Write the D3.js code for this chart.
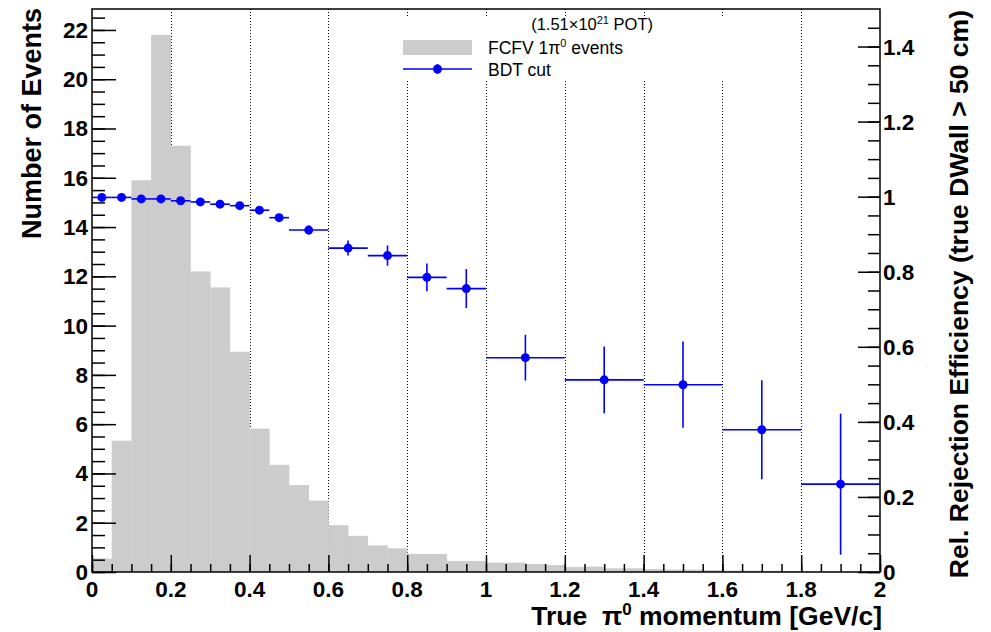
<!DOCTYPE html>
<html>
<head>
<meta charset="utf-8">
<script src="https://cdn.jsdelivr.net/npm/d3@7"></script>
<style>
  body { margin: 0; background: #fff; }
  svg { display: block; font-family: "Liberation Sans", Arial, Helvetica, sans-serif; }
</style>
</head>
<body>
<div id="chart"></div>
<script>
// grey histogram: FCFV 1pi0 events, 0.05 GeV/c bins
const histLo = [0, 0.05, 0.1, 0.15, 0.2, 0.25, 0.3, 0.35, 0.4, 0.45,
                0.5, 0.55, 0.6, 0.65, 0.7, 0.75, 0.8, 0.85, 0.9, 0.95,
                1.0, 1.05, 1.1, 1.15, 1.2, 1.25, 1.3, 1.35, 1.4, 1.45,
                1.5, 1.55, 1.6, 1.65, 1.7, 1.75, 1.8, 1.85, 1.9, 1.95];
const histHi = [0.05, 0.1, 0.15, 0.2, 0.25, 0.3, 0.35, 0.4, 0.45, 0.5,
                0.55, 0.6, 0.65, 0.7, 0.75, 0.8, 0.85, 0.9, 0.95, 1.0,
                1.05, 1.1, 1.15, 1.2, 1.25, 1.3, 1.35, 1.4, 1.45, 1.5,
                1.55, 1.6, 1.65, 1.7, 1.75, 1.8, 1.85, 1.9, 1.95, 2.0];
const histCounts = [0.55, 5.33, 15.9, 21.8, 17.3, 12.2, 11.55, 8.94, 5.82, 4.35,
                    3.53, 2.9, 1.9, 1.47, 1.08, 0.96, 0.73, 0.73, 0.45, 0.45,
                    0.38, 0.38, 0.33, 0.28, 0.2, 0.22, 0.15, 0.15, 0.12, 0.1,
                    0.1, 0.08, 0.06, 0.06, 0.05, 0.04, 0.03, 0.03, 0.02, 0.02];

// blue points: BDT cut relative rejection efficiency
const effLo = [0, 0.05, 0.1, 0.15, 0.2, 0.25, 0.3, 0.35, 0.4, 0.45,
               0.5, 0.6, 0.7, 0.8, 0.9, 1.0, 1.2, 1.4, 1.6, 1.8];
const effHi = [0.05, 0.1, 0.15, 0.2, 0.25, 0.3, 0.35, 0.4, 0.45, 0.5,
               0.6, 0.7, 0.8, 0.9, 1.0, 1.2, 1.4, 1.6, 1.8, 2.0];
const effVal = [0.998, 0.998, 0.994, 0.994, 0.989, 0.986, 0.980, 0.976, 0.964, 0.944,
                0.911, 0.863, 0.843, 0.785, 0.755, 0.571, 0.512, 0.499, 0.379, 0.234];
const effErr = [0.002, 0.002, 0.003, 0.003, 0.003, 0.004, 0.004, 0.005, 0.006, 0.008,
                0.012, 0.02, 0.027, 0.037, 0.052, 0.061, 0.089, 0.115, 0.132, 0.188];

const xTicks = [0, 0.2, 0.4, 0.6, 0.8, 1, 1.2, 1.4, 1.6, 1.8, 2];
const xGrid = [0.2, 0.4, 0.6, 0.8, 1, 1.2, 1.4, 1.6, 1.8];
const yLeftTicks = [0, 2, 4, 6, 8, 10, 12, 14, 16, 18, 20, 22];
const yRightTicks = [0, 0.2, 0.4, 0.6, 0.8, 1, 1.2, 1.4];

const width = 991, height = 632;
const margin = { top: 9, right: 111, bottom: 60, left: 92 };
const innerW = width - margin.left - margin.right;
const innerH = height - margin.top - margin.bottom;

const svg = d3.select('#chart').append('svg')
    .attr('width', width)
    .attr('height', height);

const x = d3.scaleLinear().domain([0, 2]).range([0, innerW]);
const yL = d3.scaleLinear().domain([0, 22.85]).range([innerH, 0]);
const yR = d3.scaleLinear().domain([0, 1.5]).range([innerH, 0]);

const chart = svg.append('g')
    .attr('transform', `translate(${margin.left}, ${margin.top})`);

// dotted vertical grid
chart.append('g')
    .selectAll('line')
    .data(xGrid)
    .enter()
    .append('line')
    .attr('x1', d => Math.round(x(d)) + 0.5)
    .attr('x2', d => Math.round(x(d)) + 0.5)
    .attr('y1', 0)
    .attr('y2', innerH)
    .attr('stroke', '#000')
    .attr('stroke-width', 1)
    .attr('stroke-dasharray', '1,2');

// histogram
chart.append('g')
    .selectAll('rect')
    .data(histCounts)
    .enter()
    .append('rect')
    .attr('x', (d, i) => x(histLo[i]))
    .attr('width', (d, i) => x(histHi[i]) - x(histLo[i]) + 0.3)
    .attr('y', d => yL(d))
    .attr('height', d => innerH - yL(d))
    .attr('fill', '#cccccc');

// legend box (white, hides grid)
const leg = svg.append('g');
leg.append('rect')
    .attr('x', 398).attr('y', 16)
    .attr('width', 360).attr('height', 65)
    .attr('fill', '#fff');
leg.append('text')
    .attr('x', 653).attr('y', 30)
    .attr('text-anchor', 'end')
    .attr('font-size', 16.5)
    .html('(1.51×10<tspan dy="-6" font-size="11">21</tspan><tspan dy="6"> POT)</tspan>');
leg.append('rect')
    .attr('x', 403).attr('y', 40)
    .attr('width', 69).attr('height', 15)
    .attr('fill', '#cccccc');
leg.append('text')
    .attr('x', 488).attr('y', 54)
    .attr('font-size', 17.5)
    .html('FCFV 1π<tspan dy="-7" font-size="11">0</tspan><tspan dy="7"> events</tspan>');
leg.append('line')
    .attr('x1', 403).attr('x2', 472)
    .attr('y1', 69).attr('y2', 69)
    .attr('stroke', '#0000ff').attr('stroke-width', 1.6);
leg.append('line')
    .attr('x1', 437.5).attr('x2', 437.5)
    .attr('y1', 64).attr('y2', 74)
    .attr('stroke', '#0000ff').attr('stroke-width', 1.6);
leg.append('circle')
    .attr('cx', 437.5).attr('cy', 69).attr('r', 4.5)
    .attr('fill', '#0000ff');
leg.append('text')
    .attr('x', 488).attr('y', 76)
    .attr('font-size', 17.5)
    .text('BDT cut');

// efficiency points with error bars
const pts = chart.append('g')
    .selectAll('g')
    .data(effVal)
    .enter()
    .append('g');

pts.append('line')
    .attr('x1', (d, i) => x(effLo[i]))
    .attr('x2', (d, i) => x(effHi[i]))
    .attr('y1', d => yR(d))
    .attr('y2', d => yR(d))
    .attr('stroke', '#0000ff')
    .attr('stroke-width', 1.6);

pts.append('line')
    .attr('x1', (d, i) => x((effLo[i] + effHi[i]) / 2))
    .attr('x2', (d, i) => x((effLo[i] + effHi[i]) / 2))
    .attr('y1', (d, i) => yR(d + effErr[i]))
    .attr('y2', (d, i) => yR(d - effErr[i]))
    .attr('stroke', '#0000ff')
    .attr('stroke-width', 1.6);

pts.append('circle')
    .attr('cx', (d, i) => x((effLo[i] + effHi[i]) / 2))
    .attr('cy', d => yR(d))
    .attr('r', 4.5)
    .attr('fill', '#0000ff');

// axes: ROOT style ticks pointing inward
const xAxis = d3.axisTop(x).tickValues(xTicks).tickSize(17).tickFormat('');
const xMinor = d3.axisTop(x).tickValues(d3.range(0, 2.001, 0.05)).tickSize(8).tickFormat('');
const yLAxis = d3.axisRight(yL).tickValues(yLeftTicks).tickSize(24).tickFormat('');
const yLMinor = d3.axisRight(yL).tickValues(d3.range(0, 22.85, 0.5)).tickSize(13).tickFormat('');
const yRAxis = d3.axisLeft(yR).tickValues(yRightTicks).tickSize(22).tickFormat('');
const yRMinor = d3.axisLeft(yR).tickValues(d3.range(0, 1.5, 0.05)).tickSize(12).tickFormat('');

function styleAxis(g) {
    g.selectAll('.domain').remove();
    g.selectAll('line').attr('stroke', '#000').attr('stroke-width', 1.5);
}

chart.append('g').attr('transform', `translate(0, ${innerH})`).call(xMinor).call(styleAxis);
chart.append('g').attr('transform', `translate(0, ${innerH})`).call(xAxis).call(styleAxis);
chart.append('g').call(yLMinor).call(styleAxis);
chart.append('g').call(yLAxis).call(styleAxis);
chart.append('g').attr('transform', `translate(${innerW}, 0)`).call(yRMinor).call(styleAxis);
chart.append('g').attr('transform', `translate(${innerW}, 0)`).call(yRAxis).call(styleAxis);

// frame
chart.append('rect')
    .attr('x', 0).attr('y', 0)
    .attr('width', innerW).attr('height', innerH)
    .attr('fill', 'none')
    .attr('stroke', '#000')
    .attr('stroke-width', 1.5);

// tick labels
const fmt = d => String(d);
chart.append('g')
    .selectAll('text')
    .data(xTicks)
    .enter()
    .append('text')
    .attr('x', d => x(d))
    .attr('y', innerH + 25)
    .attr('text-anchor', 'middle')
    .attr('font-size', 22.5)
    .attr('font-weight', 'bold')
    .text(fmt);

chart.append('g')
    .selectAll('text')
    .data(yLeftTicks)
    .enter()
    .append('text')
    .attr('x', -4)
    .attr('y', d => yL(d) + 8)
    .attr('text-anchor', 'end')
    .attr('font-size', 22.5)
    .attr('font-weight', 'bold')
    .text(fmt);

chart.append('g')
    .selectAll('text')
    .data(yRightTicks)
    .enter()
    .append('text')
    .attr('x', innerW + 3)
    .attr('y', d => yR(d) + 8)
    .attr('text-anchor', 'start')
    .attr('font-size', 22.5)
    .attr('font-weight', 'bold')
    .text(fmt);

// axis titles
svg.append('text')
    .attr('x', 882)
    .attr('y', 625)
    .attr('text-anchor', 'end')
    .attr('font-size', 26.5)
    .attr('font-weight', 'bold')
    .attr('xml:space', 'preserve')
    .style('white-space', 'pre')
    .html('True  π<tspan dy="-10" font-size="17">0</tspan><tspan dy="10"> momentum [GeV/c]</tspan>');

svg.append('text')
    .attr('transform', 'translate(41, 8) rotate(-90)')
    .attr('text-anchor', 'end')
    .attr('font-size', 27)
    .attr('font-weight', 'bold')
    .text('Number of Events');

svg.append('text')
    .attr('transform', 'translate(968, 10) rotate(-90)')
    .attr('text-anchor', 'end')
    .attr('font-size', 26.5)
    .attr('font-weight', 'bold')
    .text('Rel. Rejection Efficiency (true DWall > 50 cm)');
</script>
</body>
</html>
